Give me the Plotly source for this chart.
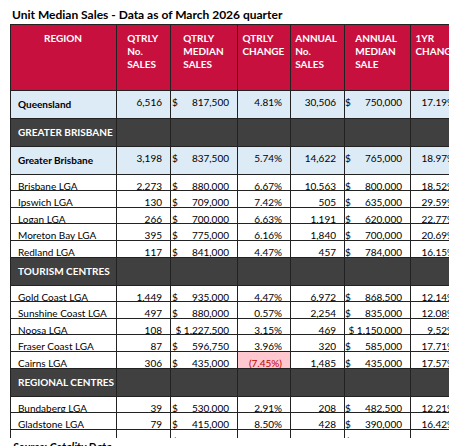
import plotly.graph_objects as go

headers = ["REGION", "QTRLY<br>No.<br>SALES", "QTRLY<br>MEDIAN<br>SALES", "QTRLY<br>CHANGE",
           "ANNUAL<br>No.<br>SALES", "ANNUAL<br>MEDIAN<br>SALE", "1YR<br>CHANGE"]

regions = ["Queensland", "GREATER BRISBANE", "Greater Brisbane", "Brisbane LGA", "Ipswich LGA",
           "Logan LGA", "Moreton Bay LGA", "Redland LGA", "TOURISM CENTRES", "Gold Coast LGA",
           "Sunshine Coast LGA", "Noosa LGA", "Fraser Coast LGA", "Cairns LGA", "REGIONAL CENTRES",
           "Bundaberg LGA", "Gladstone LGA", "Mackay LGA", "Rockhampton LGA", "Toowoomba LGA",
           "Townsville LGA"]
qtr_sales = [6516, None, 3198, 2273, 130, 266, 395, 117, None, 1449, 497, 108, 87, 306, None,
             39, 79, 91, 35, 106, 209]
qtr_median = [817500, None, 837500, 880000, 709000, 700000, 775000, 841000, None, 935000, 880000,
              1227500, 596750, 435000, None, 530000, 415000, 435000, 525000, 680000, 467500]
qtr_change = [4.81, None, 5.74, 6.67, 7.42, 6.63, 6.16, 4.47, None, 4.47, 0.57, 3.15, 3.96, -7.45,
              None, 2.91, 8.50, 3.85, 9.03, 9.24, -1.58]
ann_sales = [30506, None, 14622, 10563, 505, 1191, 1840, 457, None, 6972, 2254, 469, 320, 1485,
             None, 208, 428, 478, 170, 500, 1040]
ann_median = [750000, None, 765000, 800000, 635000, 620000, 700000, 784000, None, 868500, 835000,
              1150000, 585000, 435000, None, 482500, 390000, 400000, 503500, 581000, 440000]
yr_change = [17.19, None, 18.97, 18.52, 29.59, 22.77, 20.69, 16.15, None, 12.14, 12.08, 9.52,
             17.71, 17.57, None, 12.21, 16.42, 12.68, 33.55, 23.49, 22.22]

sections = {"GREATER BRISBANE", "TOURISM CENTRES", "REGIONAL CENTRES"}
highlight = {"Queensland", "Greater Brisbane"}
NB = "\u00a0"


def num(v):
    return "" if v is None else f"{v:,}"


def money(v):
    if v is None:
        return ""
    s = f"{v:,}"
    return "$" + "\u2007" * (9 - len(s)) + NB + s


def pct(v):
    if v is None:
        return ""
    return f"({abs(v):.2f}%)" if v < 0 else f"{v:.2f}%"


def label(r):
    r = r.replace(" ", NB)
    return f"<b>{r}</b>" if r.replace(NB, " ") in sections | highlight else r


cols = [
    [label(r) for r in regions],
    [num(v) for v in qtr_sales],
    [money(v) for v in qtr_median],
    [pct(v) for v in qtr_change],
    [num(v) for v in ann_sales],
    [money(v) for v in ann_median],
    [pct(v) for v in yr_change],
]

row_fill = ["#404040" if r in sections else "#DDEBF7" if r in highlight else "white" for r in regions]
row_font = ["white" if r in sections else "black" for r in regions]
fills, fonts = [], []
for ci in range(7):
    f = list(row_fill)
    c = list(row_font)
    if ci == 3:
        for i, v in enumerate(qtr_change):
            if v is not None and v < 0:
                f[i] = "#FFC7CE"
                c[i] = "#C00000"
    fills.append(f)
    fonts.append(c)

fig = go.Figure(go.Table(
    columnwidth=[106, 54, 67, 53, 54, 66, 53],
    header=dict(values=[f"<b>{h}</b>" for h in headers], fill_color="#C8103E",
                font=dict(color="white", size=10, family="Lato"), align="center",
                line=dict(color="#222", width=1), height=66),
    cells=dict(values=cols, fill_color=fills, font=dict(color=fonts, size=10, family="Lato"),
               align=["left", "right", "right", "right", "right", "right", "right"],
               line=dict(color="#222", width=1), height=16.6),
))

fig.add_annotation(text="<b>Unit Median Sales - Data as of March 2026 quarter</b>", x=0, y=1,
                   xref="paper", yref="paper", xanchor="left", yanchor="bottom",
                   showarrow=False, font=dict(size=12, family="Lato", color="black"))
fig.add_annotation(text="<b><i>Source: Cotality Data</i></b>", x=0, y=0, xref="paper", yref="paper",
                   xanchor="left", yanchor="top", showarrow=False,
                   font=dict(size=11, family="Lato", color="black"))

fig.update_layout(width=457, height=446, margin=dict(l=2, r=2, t=16, b=16),
                  paper_bgcolor="white")
fig.write_html("out.html")
